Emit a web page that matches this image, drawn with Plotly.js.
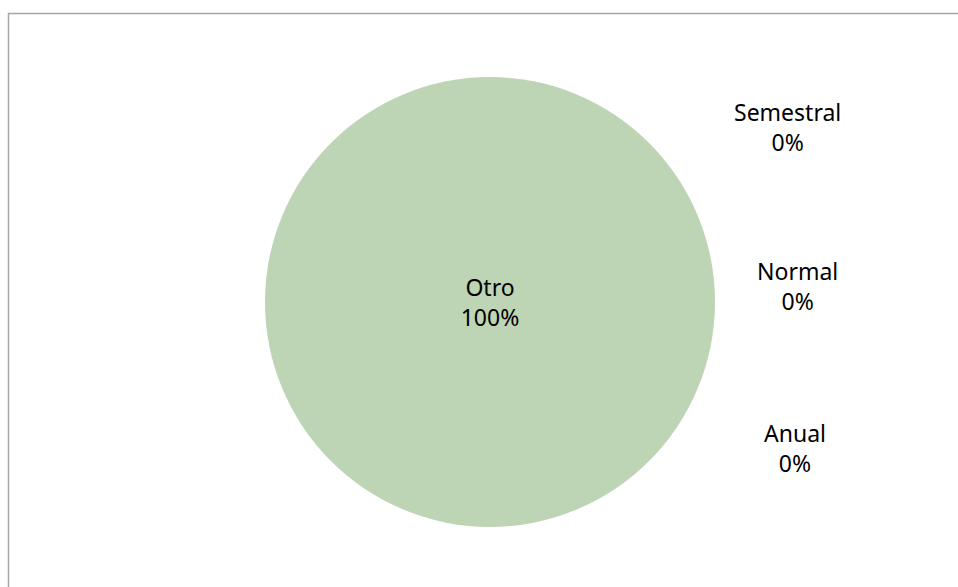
<!DOCTYPE html>
<html>
<head>
<meta charset="utf-8">
<script src="https://cdn.plot.ly/plotly-3.0.1.min.js"></script>
<style>html,body{margin:0;padding:0;background:#fff;}#chart{width:958px;height:587px;}</style>
</head>
<body>
<div id="chart"></div>
<script>
// Data
const categories = ['Otro', 'Semestral', 'Normal', 'Anual'];
const values = [100, 0, 0, 0];

// Styling / layout (not data)
const sliceColor = '#BDD5B4';
const fontFamily = '"Noto Sans", "Open Sans", sans-serif';
const fontSize = 23;
const outsideLabelPos = { Semestral: [787, 127], Normal: [797, 286], Anual: [795, 448] };

const W = 958, H = 587;
const total = values.reduce((a, b) => a + b, 0);

const annotations = [];
categories.forEach((c, i) => {
  if (values[i] === 0 && outsideLabelPos[c]) {
    const p = outsideLabelPos[c];
    annotations.push({
      xref: 'paper', yref: 'paper',
      x: p[0] / W, y: 1 - p[1] / H,
      xanchor: 'center', yanchor: 'middle',
      showarrow: false,
      text: c + '<br>' + Math.round(values[i] / total * 100) + '%',
      font: { family: fontFamily, size: fontSize, color: '#000' }
    });
  }
});

const trace = {
  type: 'pie',
  labels: categories,
  values: values,
  sort: false,
  direction: 'clockwise',
  marker: { colors: [sliceColor, '#5B9BD5', '#ED7D31', '#A5A5A5'], line: { width: 0 } },
  texttemplate: '%{label}<br>%{percent:.0%}',
  textposition: 'inside',
  insidetextorientation: 'horizontal',
  textfont: { family: fontFamily, size: fontSize, color: '#000' },
  hoverinfo: 'none',
  domain: { x: [265 / W, 715 / W], y: [1 - 527 / H, 1 - 77 / H] }
};

const layout = {
  width: W, height: H,
  margin: { l: 0, r: 0, t: 0, b: 0 },
  paper_bgcolor: '#fff',
  showlegend: false,
  annotations: annotations,
  shapes: [{
    type: 'rect', xref: 'paper', yref: 'paper',
    x0: 8.5 / W, x1: 1.05, y0: -0.05, y1: 1 - 13.5 / H,
    line: { color: '#A6A6A6', width: 1.5 }
  }]
};

Plotly.newPlot('chart', [trace], layout, { displayModeBar: false, staticPlot: true });
</script>
</body>
</html>
